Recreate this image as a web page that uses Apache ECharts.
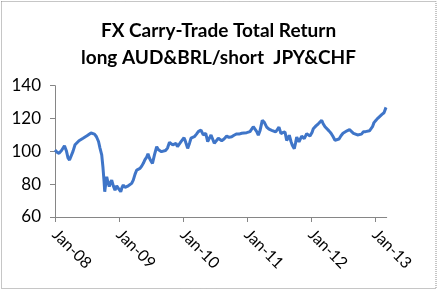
<!DOCTYPE html>
<html>
<head>
<meta charset="utf-8">
<script src="https://cdn.jsdelivr.net/npm/echarts@6/dist/echarts.min.js"></script>
<style>
html,body{margin:0;padding:0;background:#fff;}
#chart{width:437px;height:291px;}
</style>
</head>
<body>
<div id="chart"></div>
<script>
// Time in decimal years
var years = [
2008.000,2008.031,2008.063,2008.102,2008.148,2008.180,2008.203,2008.227,2008.250,2008.281,
2008.313,2008.344,2008.375,2008.406,2008.438,2008.469,2008.500,2008.531,2008.563,2008.586,
2008.617,2008.648,2008.680,2008.703,
2008.730,2008.750,2008.766,2008.777,2008.792,2008.808,2008.828,2008.848,2008.867,2008.886,
2008.911,2008.938,2008.964,2008.989,2009.027,2009.047,2009.067,2009.094,2009.120,2009.145,
2009.172,2009.198,2009.223,2009.250,2009.277,2009.302,2009.328,2009.355,2009.380,2009.406,
2009.433,2009.453,
2009.477,2009.500,2009.523,2009.555,2009.589,2009.617,2009.641,2009.664,2009.695,2009.727,
2009.758,2009.789,2009.813,2009.839,2009.867,2009.891,2009.914,2009.938,2009.969,2009.992,
2010.016,
2010.031,2010.073,2010.102,2010.125,2010.177,2010.211,2010.239,2010.281,2010.317,2010.355,
2010.386,2010.438,2010.489,2010.552,2010.605,2010.641,2010.683,2010.719,2010.761,2010.797,
2010.839,2010.875,2010.917,2010.953,2010.995,2011.023,2011.047,2011.073,2011.098,2011.125,
2011.152,2011.177,2011.203,2011.239,2011.273,2011.308,2011.344,2011.386,2011.448,2011.477,
2011.500,2011.531,2011.5625,2011.594,2011.620,2011.641,2011.661,2011.6875,2011.708,2011.739,
2011.758,2011.777,2011.8125,2011.855,2011.895,2011.933,2011.961,2011.984,2012.016,2012.036,
2012.078,2012.114,2012.141,2012.167,
2012.188,2012.219,2012.250,2012.281,2012.313,2012.344,2012.375,2012.406,2012.438,2012.469,
2012.500,2012.531,2012.563,2012.602,2012.633,2012.664,2012.695,2012.727,2012.758,2012.789,
2012.820,2012.852,2012.883,2012.914,2012.938,2012.961,2012.984,2013.016,2013.047,2013.078,
2013.109,2013.141,2013.172
];
var totalReturn = [
100.8,99.5,98.8,100.5,103.4,100,96,94.7,95.5,100,
104,104.5,106.5,107,108,108.5,109.5,110,111.2,111.4,
110.5,108.9,106,102,
97.8,90,82,75.4,80,84.5,81,78.5,81,82.5,
79,76.4,79,78.5,75.4,78,79.5,78,77.5,79,
79.5,80.5,82.5,86,88.6,89,89.6,91,92.7,95,
96.5,98.5,
95.8,94,92.7,98,102.8,101,100,99.8,100.2,100.5,
102,105.5,104.5,103.9,104.5,104.9,102.8,104,105.9,107,
108.3,
106.9,101.8,105,108,108.9,110.5,112,113,110,111,
105.9,110,104.9,108,106.5,107.5,109.3,108.5,108.9,109.8,
110.6,110.5,111,111.2,111.4,111.8,112,110.8,115,114.8,
112,109.8,112.5,118.9,117.5,114.8,113.5,112.8,111.8,112.5,
114.8,110.8,111.5,111.8,106.7,108,109.8,106,103.7,101.6,
105,108.7,105.7,109.3,107.7,110.8,109.8,109.3,111.5,113.8,
115.5,116.8,118,118.9,
117,115,113.8,112.5,111,109,106.8,106.5,107.5,109.5,
111,111.8,112.5,113.2,112,111,110.8,110,109.3,110.5,
112,112,112,112.5,113.2,115,117.5,119,120.3,121.5,
122.5,123.5,126.8
];
var xTickYears = [2008, 2009, 2010, 2011, 2012, 2013];
var xTickLabels = ['Jan-08', 'Jan-09', 'Jan-10', 'Jan-11', 'Jan-12', 'Jan-13'];
var yTicks = [60, 80, 100, 120, 140];

var seriesData = years.map(function (t, i) { return [t, totalReturn[i]]; });

var chart = echarts.init(document.getElementById('chart'), null, {renderer: 'canvas'});
var font = 'Lato, "Noto Sans", sans-serif';
chart.setOption({
  animation: false,
  backgroundColor: '#fff',
  title: {
    text: 'FX Carry-Trade Total Return\nlong AUD&BRL/short  JPY&CHF',
    left: 'center',
    top: 12,
    textStyle: {fontFamily: font, fontWeight: 'bold', fontSize: 19, lineHeight: 27, color: '#000'}
  },
  graphic: [{
    type: 'rect',
    shape: {x: 1.5, y: 1.5, width: 434.5, height: 287},
    style: {fill: 'none', stroke: '#8c8c8c', lineWidth: 1, lineDash: [1, 1]},
    silent: true
  }],
  grid: {left: 55, right: 50.3, top: 85.7, bottom: 74, containLabel: false},
  xAxis: {
    type: 'value',
    min: 2008,
    max: 2013.183,
    interval: 1,
    axisLine: {show: true, lineStyle: {color: '#868686', width: 1}},
    axisTick: {show: true, length: 5, customValues: xTickYears, lineStyle: {color: '#868686'}},
    splitLine: {show: false},
    axisLabel: {
      customValues: xTickYears,
      rotate: -45,
      margin: 15,
      fontFamily: font,
      fontSize: 16,
      color: '#000',
      formatter: function (v) {
        var i = xTickYears.indexOf(Math.round(v));
        return i >= 0 ? xTickLabels[i] : '';
      }
    }
  },
  yAxis: {
    type: 'value',
    min: 60,
    max: 140,
    interval: 20,
    axisLine: {show: true, lineStyle: {color: '#868686', width: 1}},
    axisTick: {show: true, length: 5, lineStyle: {color: '#868686'}},
    splitLine: {show: false},
    axisLabel: {
      margin: 14,
      fontFamily: font,
      fontSize: 17,
      color: '#000',
      formatter: function (v) { return yTicks.indexOf(v) >= 0 ? String(v) : ''; }
    }
  },
  series: [{
    type: 'line',
    data: seriesData,
    showSymbol: false,
    smooth: false,
    lineStyle: {color: '#3f75c8', width: 3},
    itemStyle: {color: '#3f75c8'}
  }]
});
</script>
</body>
</html>
